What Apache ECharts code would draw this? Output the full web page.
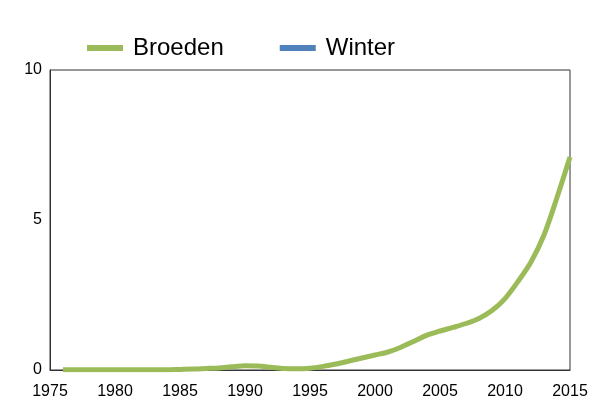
<!DOCTYPE html>
<html>
<head>
<meta charset="utf-8">
<script src="https://cdn.jsdelivr.net/npm/echarts@6/dist/echarts.min.js"></script>
<style>html,body{margin:0;padding:0;background:#fff;}#c{width:600px;height:400px;}</style>
</head>
<body>
<div id="c"></div>
<script>
const years = [1976,1977,1978,1979,1980,1981,1982,1983,1984,1985,1986,1987,1988,1989,1990,1991,1992,1993,1994,1995,1996,1997,1998,1999,2000,2001,2002,2003,2004,2005,2006,2007,2008,2009,2010,2011,2012,2013,2014,2015];
const broeden = [0.01,0.01,0.01,0.01,0.01,0.01,0.01,0.01,0.01,0.02,0.03,0.05,0.07,0.11,0.14,0.13,0.09,0.05,0.04,0.06,0.12,0.2,0.3,0.4,0.5,0.6,0.76,0.96,1.16,1.3,1.42,1.55,1.72,1.98,2.38,2.95,3.6,4.5,5.75,7.1];
const winter = [];
const seriesNames = ['Broeden','Winter'];
const xTicks = [1975,2015,5];
const yTicks = [0,10,5];

const chart = echarts.init(document.getElementById('c'), null, {renderer:'canvas'});
chart.setOption({
  animation:false,
  legend:{
    data:seriesNames.map(n=>({name:n, icon:'rect'})),
    left:87, top:36, padding:0,
    itemWidth:36, itemHeight:6, itemGap:56,
    textStyle:{fontFamily:'Liberation Sans, Arial', fontSize:24, color:'#000', padding:[0,0,0,5]}
  },
  grid:{left:50, right:30, top:70, bottom:30, show:true, borderColor:'#333', borderWidth:1, backgroundColor:'transparent'},
  xAxis:{
    type:'value', min:xTicks[0], max:xTicks[1], interval:xTicks[2],
    axisLine:{show:true, lineStyle:{color:'#333'}},
    axisTick:{show:false},
    splitLine:{show:false},
    axisLabel:{fontFamily:'Liberation Sans, Arial', fontSize:16, color:'#000', margin:14, formatter:v=>String(v)}
  },
  yAxis:{
    type:'value', min:yTicks[0], max:yTicks[1], interval:yTicks[2],
    axisLine:{show:true, lineStyle:{color:'#333'}},
    axisTick:{show:false},
    splitLine:{show:false},
    axisLabel:{fontFamily:'Liberation Sans, Arial', fontSize:16, color:'#000', margin:8}
  },
  series:[
    {name:seriesNames[1], type:'line', data:winter, showSymbol:false, lineStyle:{color:'#4f81bd', width:5}, itemStyle:{color:'#4f81bd'}},
    {name:seriesNames[0], type:'line', smooth:0.3, data:years.map((y,i)=>[y,broeden[i]]), showSymbol:false, lineStyle:{color:'#9bbb59', width:5}, itemStyle:{color:'#9bbb59'}}
  ]
});
</script>
</body>
</html>
